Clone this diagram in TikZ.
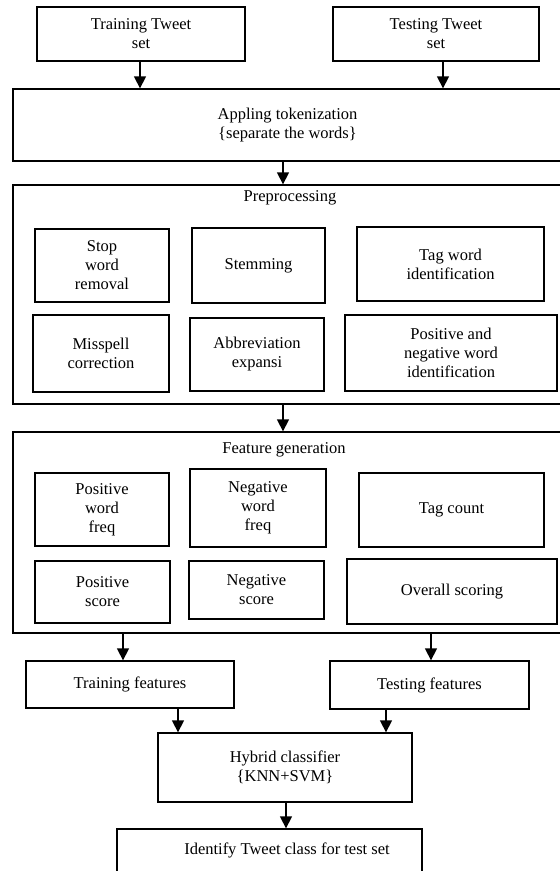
\documentclass[tikz,border=0pt]{standalone}
\usepackage{fontspec}
\setmainfont{Liberation Serif}
\usetikzlibrary{arrows.meta}

\tikzset{
	box/.style={draw, line width=1.3pt, inner sep=0pt, align=center, font=\fontsize{16.5}{19}\selectfont},
	frame/.style={draw, line width=1.3pt, inner sep=0pt},
	title/.style={inner sep=0pt, font=\fontsize{16.5}{19}\selectfont},
	flow/.style={line width=1.3pt, -{Triangle[width=12pt,length=12pt]}}
}

\begin{document}
\begin{tikzpicture}[x=1pt, y=-1pt]
			%%%%% START %%%%%
			\useasboundingbox (0, 0) rectangle (560, 871);
			\clip (0, 0) rectangle (560, 871);
			
			\node[box, minimum width=208, minimum height=54] (trtw) at (141, 34) {Training Tweet\\set};
			\node[box, minimum width=206, minimum height=54] (tetw) at (436, 34) {Testing Tweet\\set};
			
			\node[box, minimum width=549, minimum height=72] (tok) at (287.5, 125) {Appling tokenization\\\{separate the words\}};
			
			\draw[flow] (trtw.south -| 140,0) -- (tok.north -| 140,0);
			\draw[flow] (tetw.south -| 443,0) -- (tok.north -| 443,0);
			
			% preprocessing
			\node[frame, minimum width=549, minimum height=219] (pre) at (287.5, 294.5) {};
			\node[title] (pretitle) at (290, 198) {Preprocessing};
			
			\node[box, minimum width=134, minimum height=73] (stop) at (102, 265.5) {Stop\\word\\removal};
			\node[box, minimum width=133, minimum height=75] (stem) at (258.5, 265.5) {Stemming};
			\node[box, minimum width=187, minimum height=74] (tagw) at (450.5, 264) {Tag word\\identification};
			\node[box, minimum width=136, minimum height=77] (missp) at (101, 353.5) {Misspell\\correction};
			\node[box, minimum width=134, minimum height=73] (abbr) at (257, 354.5) {Abbreviation\\expansi};
			\node[box, minimum width=212, minimum height=76] (posneg) at (451, 353) {Positive and\\negative word\\identification};
			
			\draw[flow] (tok.south -| 283,0) -- (pre.north -| 283,0);
			
			% feature generation
			\node[frame, minimum width=549, minimum height=201] (feat) at (287.5, 532.5) {};
			\node[title] (feattitle) at (284, 450) {Feature generation};
			
			\node[box, minimum width=134, minimum height=73] (pwf) at (102, 509.5) {Positive\\word\\freq};
			\node[box, minimum width=136, minimum height=78] (nwf) at (258, 508) {Negative\\word\\freq};
			\node[box, minimum width=185, minimum height=74] (tagc) at (451.5, 510) {Tag count};
			\node[box, minimum width=135, minimum height=62] (psc) at (102.5, 592) {Positive\\score};
			\node[box, minimum width=135, minimum height=58] (nsc) at (256.5, 590) {Negative\\score};
			\node[box, minimum width=210, minimum height=65] (ovr) at (452, 591.5) {Overall scoring};
			
			\draw[flow] (pre.south -| 283,0) -- (feat.north -| 283,0);
			
			% classification
			\node[box, minimum width=208, minimum height=47] (trf) at (130, 684.5) {Training features};
			\node[box, minimum width=199, minimum height=48] (tef) at (429.5, 685) {Testing features};
			
			\draw[flow] (feat.south -| 123,0) -- (trf.north -| 123,0);
			\draw[flow] (feat.south -| 431,0) -- (tef.north -| 431,0);
			
			\node[box, minimum width=254, minimum height=69] (hyb) at (285, 767.5) {Hybrid classifier\\\{KNN+SVM\}};
			
			\draw[flow] (trf.south -| 178,0) -- (hyb.north -| 178,0);
			\draw[flow] (tef.south -| 386,0) -- (hyb.north -| 386,0);
			
			\node[frame, minimum width=305, minimum height=60] (ident) at (269.5, 859) {};
			\node[title] (identtext) at (287, 850) {Identify Tweet class for test set};
			
			\draw[flow] (hyb.south -| 286,0) -- (ident.north -| 286,0);
			
			%%%%% END %%%%%
\end{tikzpicture}
\end{document}
